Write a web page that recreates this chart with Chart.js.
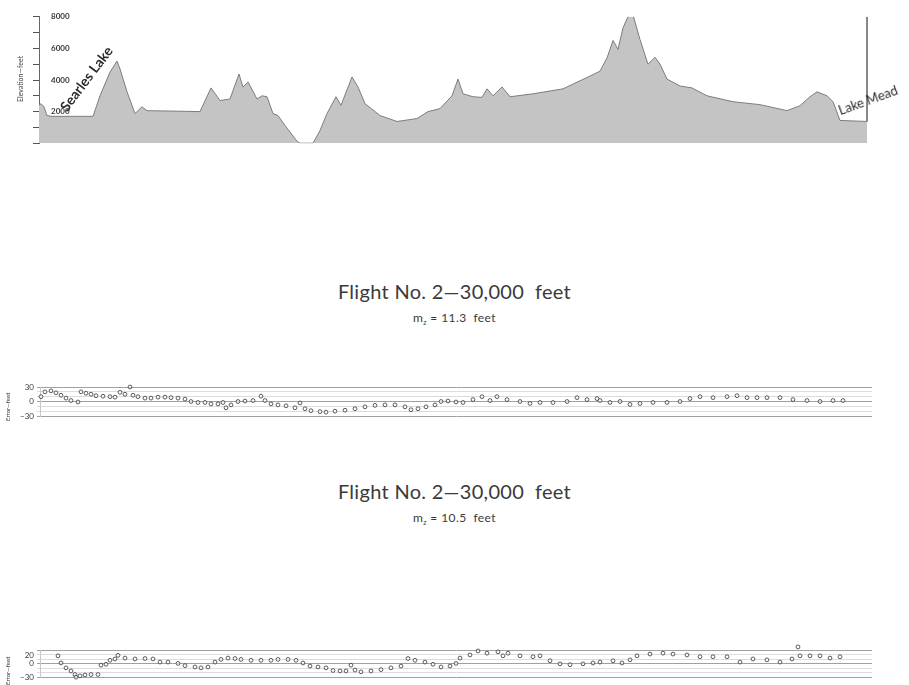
<!DOCTYPE html>
<html>
<head>
<meta charset="utf-8">
<script src="https://cdn.jsdelivr.net/npm/chart.js@4.4.1/dist/chart.umd.min.js"></script>
<style>
body{margin:0;background:#fff;width:909px;height:685px;position:relative;overflow:hidden;font-family:Lato,'DejaVu Sans',sans-serif;color:#3a3a3a}
canvas{position:absolute;left:0}
.title{position:absolute;left:0;width:909px;text-align:center;font-size:20px;letter-spacing:0.3px}
.sub{position:absolute;left:0;width:909px;text-align:center;font-size:12px;letter-spacing:0.4px}
.rot{position:absolute;white-space:nowrap;transform-origin:0 0}
</style>
</head>
<body>
<canvas id="chart-elev" width="909" height="160" style="top:0"></canvas>
<canvas id="chart-err1" width="909" height="60" style="top:370px"></canvas>
<canvas id="chart-err2" width="909" height="45" style="top:640px"></canvas>

<div class="rot" style="left:16px;top:102px;font-size:7px;transform:rotate(-90deg)">Elevation—feet</div>
<div class="rot" style="left:56px;top:104px;font-size:14px;font-weight:bold;color:#2a2a2a;transform:rotate(-53deg)">Searles Lake</div>
<div class="rot" style="left:836px;top:103px;font-size:13px;color:#2a2a2a;transform:rotate(-20deg)">Lake Mead</div>

<div class="title" style="top:279px">Flight No. 2—30,000&nbsp; feet</div>
<div class="sub" style="top:310px">m<sub style="font-size:7px">z</sub> = 11.3&nbsp; feet</div>
<div class="rot" style="left:4px;top:421px;font-size:6px;transform:rotate(-90deg)">Error—feet</div>

<div class="title" style="top:479px">Flight No. 2—30,000&nbsp; feet</div>
<div class="sub" style="top:510px">m<sub style="font-size:7px">z</sub> = 10.5&nbsp; feet</div>
<div class="rot" style="left:4px;top:685px;font-size:6px;transform:rotate(-90deg)">Error—feet</div>

<script>
// elevation profile, Searles Lake -> Lake Mead
const elevDist = [0, 2, 5, 8, 13, 54, 61, 71, 76, 78, 81, 88, 96, 103, 108, 161, 172, 181, 191, 200,
    204, 209, 218, 223, 228, 234, 239, 246, 258, 261, 274, 281, 288, 297, 302, 313, 319, 326, 341, 358,
    378, 389, 401, 413, 419, 424, 434, 443, 448, 454, 463, 471, 494, 524, 551, 561, 568, 574, 579, 584,
    591, 594, 601, 609, 616, 621, 628, 641, 653, 668, 694, 721, 748, 761, 771, 778, 788, 794, 801, 828];
const elevFeet = [2400, 2500, 2300, 1750, 1700, 1700, 3000, 4500, 5000, 5200, 4700, 3250, 1875, 2300, 2060, 2000, 3500, 2700, 2800, 4375,
    3550, 3875, 2800, 3000, 2940, 1875, 1750, 1125, 125, 0, 0, 800, 1875, 2940, 2400, 4190, 3560, 2500, 1750, 1375,
    1560, 2000, 2190, 3000, 4060, 3125, 2940, 2900, 3440, 3000, 3560, 2940, 3125, 3440, 4250, 4560, 5400, 6500, 5940, 7300,
    8300, 8125, 6560, 5000, 5440, 5000, 4060, 3620, 3500, 3000, 2625, 2440, 2060, 2375, 2940, 3250, 3000, 2625, 1440, 1375];
const elevTicks = [2000, 4000, 6000, 8000];

// error plot 1 (m_z = 11.3 feet)
const err1Dist = [1, 5, 11, 16, 21, 26, 31, 38, 41, 46, 51, 56, 63, 70, 75, 80, 85, 90, 93, 98,
    105, 111, 118, 125, 131, 138, 145, 151, 158, 165, 171, 178, 183, 186, 191, 198, 205, 213, 221, 225,
    231, 238, 246, 255, 260, 265, 271, 280, 286, 295, 305, 315, 325, 335, 345, 355, 365, 371, 378, 386,
    395, 401, 408, 416, 423, 433, 442, 450, 457, 467, 480, 490, 500, 513, 527, 537, 547, 557, 560, 570,
    580, 590, 600, 613, 627, 640, 650, 660, 673, 687, 697, 707, 717, 727, 740, 753, 767, 780, 793, 803];
const err1Feet = [10, 20, 22, 18, 13, 7, 2, -1, 20, 17, 15, 12, 11, 10, 9, 19, 15, 30, 13, 10,
    7, 7, 9, 9, 8, 7, 5, 0, -2, -2, -5, -5, -2, -13, -7, 0, 1, 2, 11, 2,
    -5, -7, -9, -13, -3, -15, -19, -21, -22, -20, -18, -15, -11, -8, -7, -7, -11, -17, -15, -11,
    -7, 0, 1, -1, -2, 4, 10, 2, 10, 4, 0, -4, -2, -2, 0, 8, 4, 6, 2, -2,
    0, -6, -4, -2, -2, 0, 6, 10, 8, 10, 12, 8, 8, 8, 8, 4, 2, 0, 2, 2];

// error plot 2 (m_z = 10.5 feet)
const err2Dist = [18, 21, 26, 31, 35, 36, 40, 45, 51, 58, 61, 66, 70, 75, 78, 85, 95, 105, 113, 120,
    128, 138, 145, 155, 161, 168, 175, 181, 188, 195, 201, 211, 221, 231, 238, 248, 256, 263, 270, 278,
    286, 293, 300, 306, 311, 315, 321, 331, 341, 351, 361, 368, 375, 385, 393, 401, 410, 416, 420, 430,
    438, 447, 458, 463, 468, 480, 493, 500, 510, 520, 530, 543, 553, 560, 573, 582, 590, 597, 610, 623,
    633, 647, 660, 673, 687, 700, 713, 727, 740, 752, 758, 760, 770, 780, 790, 800];
const err2Feet = [18, 2, -9, -16, -24, -30, -27, -25, -24, -24, -3, -1, 8, 11, 19, 13, 11, 12, 11, 4,
    4, 1, -4, -7, -9, -7, 4, 10, 13, 12, 10, 8, 8, 8, 10, 10, 8, 2, -5, -7,
    -9, -15, -16, -16, -3, -14, -18, -16, -13, -9, -5, 12, 8, 4, -1, -7, -5, 1, 13, 20,
    29, 24, 27, 18, 24, 18, 16, 18, 7, 0, -2, 0, 2, 4, 7, 2, 9, 18, 22, 24,
    22, 20, 16, 16, 16, 4, 11, 9, 4, 11, 38, 18, 18, 18, 13, 16];
const err1Labels = [30, 0, -30];
const err2Labels = [20, 0, -30];

const zip = (xs, ys) => xs.map((x, i) => ({ x: x, y: ys[i] }));
const ink = '#3a3a3a';

// keep y axis a fixed width so chart areas line up with the picture
const fixWidth = w => function (scale) { scale.width = w; };

new Chart(document.getElementById('chart-elev').getContext('2d'), {
    type: 'line',
    data: {
        datasets: [{
            data: zip(elevDist, elevFeet),
            fill: 'origin',
            backgroundColor: '#c4c4c4',
            borderColor: '#7d7d7d',
            borderWidth: 1,
            pointRadius: 0,
            tension: 0
        }, {
            // right edge line at Lake Mead
            data: [{ x: elevDist[elevDist.length - 1], y: 8000 }, { x: elevDist[elevDist.length - 1], y: elevFeet[elevFeet.length - 1] }],
            borderColor: '#777',
            borderWidth: 1,
            pointRadius: 0,
            fill: false
        }]
    },
    options: {
        responsive: false,
        animation: false,
        layout: { autoPadding: false, padding: { left: 31, right: 41, top: 16, bottom: 15 } },
        plugins: { legend: { display: false }, tooltip: { enabled: false } },
        scales: {
            x: { type: 'linear', display: false, min: 0, max: 829 },
            y: {
                min: 0,
                max: 8000,
                afterFit: fixWidth(8),
                border: { display: true, color: '#666', width: 1 },
                grid: { drawOnChartArea: false, tickLength: 6, color: '#555' },
                ticks: {
                    stepSize: 1000,
                    autoSkip: false,
                    mirror: true,
                    padding: 12,
                    color: ink,
                    font: { family: 'Lato', size: 8, weight: 'bold' },
                    callback: v => elevTicks.includes(v) ? v : ''
                }
            }
        }
    }
});

const errChart = (id, dist, feet, labels, pad) => {
    new Chart(document.getElementById(id).getContext('2d'), {
        type: 'scatter',
        data: {
            datasets: [{
                data: zip(dist, feet),
                pointRadius: 1.9,
                pointBorderWidth: 0.9,
                pointBorderColor: '#4a4a4a',
                pointBackgroundColor: 'rgba(255,255,255,0.6)',
                clip: false
            }]
        },
        options: {
            responsive: false,
            animation: false,
            layout: { autoPadding: false, padding: pad },
            plugins: { legend: { display: false }, tooltip: { enabled: false } },
            scales: {
                x: { type: 'linear', display: false, min: 0, max: 832 },
                y: {
                    min: -30,
                    max: 30,
                    afterFit: fixWidth(40),
                    border: { display: true, color: '#c8c8c8', width: 1 },
                    grid: {
                        tickLength: 3,
                        color: c => (c.tick.value === 0 || Math.abs(c.tick.value) === 30) ? '#a0a0a0' : '#dcdcdc',
                        lineWidth: 1
                    },
                    ticks: {
                        stepSize: 10,
                        autoSkip: false,
                        padding: 3,
                        color: ink,
                        font: { family: 'Lato', size: 8 },
                        callback: v => labels.includes(v) ? (v < 0 ? '−' + Math.abs(v) : v) : ''
                    }
                }
            }
        }
    });
};

errChart('chart-err1', err1Dist, err1Feet, err1Labels, { left: 0, right: 37, top: 17, bottom: 14 });
errChart('chart-err2', err2Dist, err2Feet, err2Labels, { left: 0, right: 37, top: 10.5, bottom: 7.5 });
</script>
</body>
</html>
